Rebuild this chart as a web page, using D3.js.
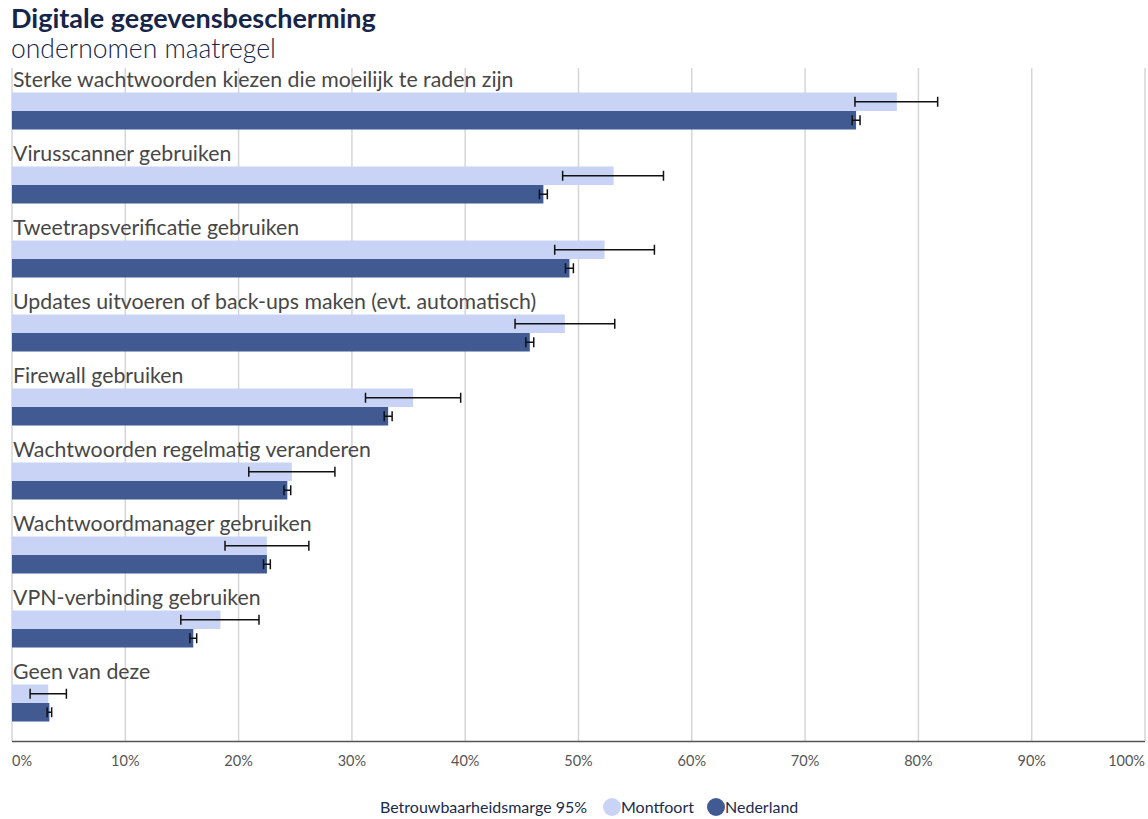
<!DOCTYPE html>
<html>
<head>
<meta charset="utf-8">
<script src="https://cdn.jsdelivr.net/npm/d3@7"></script>
<style>
  body { margin: 0; background: #fff; }
  svg { display: block; font-family: "Lato", "Noto Sans", sans-serif; }
</style>
</head>
<body>
<div id="chart"></div>
<script>
// Data
const categories = [
  "Sterke wachtwoorden kiezen die moeilijk te raden zijn",
  "Virusscanner gebruiken",
  "Tweetrapsverificatie gebruiken",
  "Updates uitvoeren of back-ups maken (evt. automatisch)",
  "Firewall gebruiken",
  "Wachtwoorden regelmatig veranderen",
  "Wachtwoordmanager gebruiken",
  "VPN-verbinding gebruiken",
  "Geen van deze"
];
const montfoort = [78.1, 53.1, 52.3, 48.8, 35.4, 24.7, 22.5, 18.4, 3.2];
const montfoortLow = [74.4, 48.6, 47.9, 44.4, 31.2, 20.9, 18.8, 14.9, 1.6];
const montfoortHigh = [81.7, 57.5, 56.7, 53.2, 39.6, 28.5, 26.2, 21.8, 4.8];
const nederland = [74.5, 46.9, 49.2, 45.7, 33.2, 24.3, 22.5, 16.0, 3.3];
const nederlandMargin = [0.35, 0.35, 0.35, 0.35, 0.35, 0.3, 0.3, 0.3, 0.2];
const ticks = [0, 10, 20, 30, 40, 50, 60, 70, 80, 90, 100];

const W = 1148, H = 819;
const lightColor = "#c9d3f5";
const darkColor = "#415a92";

const svg = d3.select("#chart").append("svg")
  .attr("width", W)
  .attr("height", H);

const x = d3.scaleLinear().domain([0, 100]).range([12, 1145]);
const y = d3.scaleBand().domain(categories).range([75, 741]).paddingInner(0);

//Gridlines
svg.append("g")
  .selectAll("line")
  .data(ticks)
  .enter()
  .append("line")
    .attr("x1", d => x(d)).attr("x2", d => x(d))
    .attr("y1", 68).attr("y2", 741)
    .attr("stroke", "#d6d6d6")
    .attr("stroke-width", 1.5);

//Bars
const barH = 18.5;
const groups = svg.append("g")
  .selectAll("g")
  .data(categories)
  .enter()
  .append("g")
    .attr("transform", d => `translate(0,${y(d)})`);

groups.append("rect")
  .attr("x", x(0))
  .attr("y", 17.5)
  .attr("width", (d, i) => x(montfoort[i]) - x(0))
  .attr("height", barH)
  .attr("fill", lightColor);

groups.append("rect")
  .attr("x", x(0))
  .attr("y", 17.5 + barH)
  .attr("width", (d, i) => x(nederland[i]) - x(0))
  .attr("height", barH)
  .attr("fill", darkColor);

groups.append("text")
  .attr("x", x(0) + 1)
  .attr("y", 11.5)
  .attr("fill", "#474747")
  .style("font-size", "21.3px")
  .text(d => d);

//Error bars
function errorBar(sel, lo, hi, yc, cap) {
  sel.append("line")
    .attr("x1", (d, i) => x(lo(i))).attr("x2", (d, i) => x(hi(i)))
    .attr("y1", yc).attr("y2", yc)
    .attr("stroke", "#111").attr("stroke-width", 1.5);
  sel.append("line")
    .attr("x1", (d, i) => x(lo(i))).attr("x2", (d, i) => x(lo(i)))
    .attr("y1", yc - cap).attr("y2", yc + cap)
    .attr("stroke", "#111").attr("stroke-width", 1.5);
  sel.append("line")
    .attr("x1", (d, i) => x(hi(i))).attr("x2", (d, i) => x(hi(i)))
    .attr("y1", yc - cap).attr("y2", yc + cap)
    .attr("stroke", "#111").attr("stroke-width", 1.5);
}
errorBar(groups, i => montfoortLow[i], i => montfoortHigh[i], 17.5 + barH / 2, 5);
errorBar(groups, i => nederland[i] - nederlandMargin[i], i => nederland[i] + nederlandMargin[i], 17.5 + barH * 1.5, 5);

//Axis
svg.append("line")
  .attr("x1", x(0)).attr("x2", x(100))
  .attr("y1", 741.5).attr("y2", 741.5)
  .attr("stroke", "#555")
  .attr("stroke-width", 1.5);

svg.append("g")
  .selectAll("text")
  .data(ticks)
  .enter()
  .append("text")
    .attr("x", d => x(d))
    .attr("y", 766)
    .attr("text-anchor", d => d === 0 ? "start" : d === 100 ? "end" : "middle")
    .attr("fill", "#555")
    .style("font-size", "14.5px")
    .text(d => d + "%");

//Title
svg.append("text")
  .attr("x", 11).attr("y", 28)
  .attr("fill", "#16254a")
  .style("font-size", "27px")
  .style("font-weight", "bold")
  .text("Digitale gegevensbescherming");

svg.append("text")
  .attr("x", 11).attr("y", 58)
  .attr("fill", "#16254a")
  .style("font-size", "26.5px")
  .style("font-weight", "300")
  .text("ondernomen maatregel");

//Legend
const legend = svg.append("g").attr("transform", "translate(0,807)");
legend.append("text")
  .attr("x", 380).attr("y", 5.5)
  .attr("fill", "#1b2b4b")
  .style("font-size", "16px")
  .text("Betrouwbaarheidsmarge 95%");
const legendItems = [
  {label: "Montfoort", color: lightColor, cx: 612},
  {label: "Nederland", color: darkColor, cx: 716}
];
legendItems.forEach(d => {
  legend.append("circle")
    .attr("cx", d.cx).attr("cy", 0)
    .attr("r", 9)
    .attr("fill", d.color);
  legend.append("text")
    .attr("x", d.cx + 9).attr("y", 5.5)
    .attr("fill", "#1b2b4b")
    .style("font-size", "16px")
    .text(d.label);
});
</script>
</body>
</html>
